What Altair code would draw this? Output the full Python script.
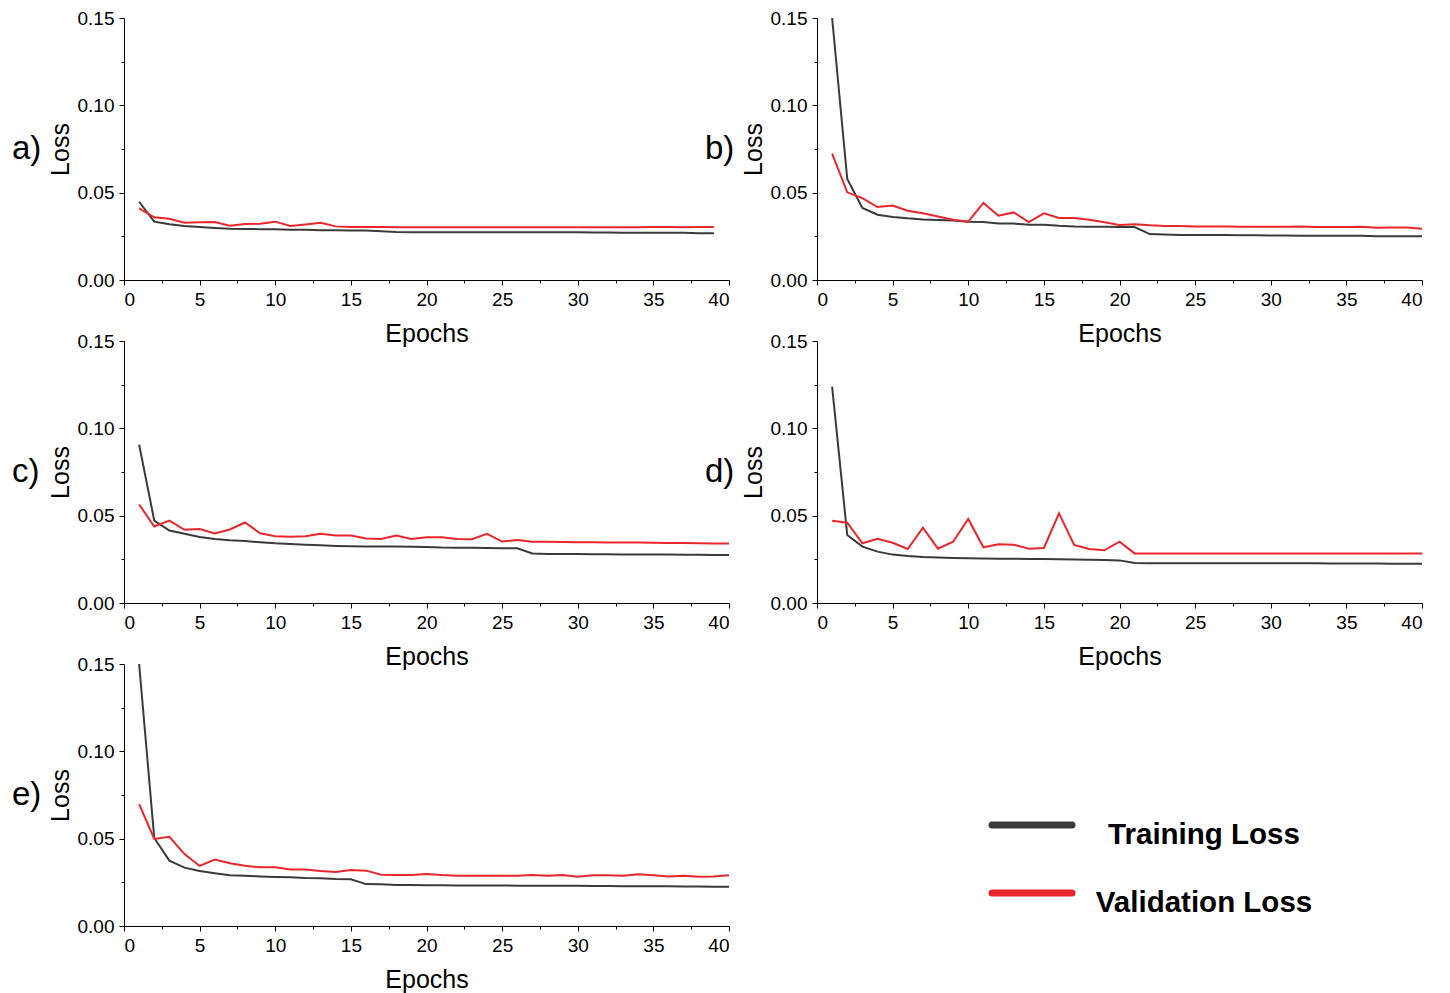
import altair as alt
import pandas as pd

series_names = ["Training Loss", "Validation Loss"]
series_colors = ["#3a3a3a", "#e8262b"]
panel_labels = ["a)", "b)", "c)", "d)", "e)"]

epochs_a = list(range(1, 40))
train_a = [0.0448, 0.0334, 0.0319, 0.0309, 0.0303, 0.0298, 0.0294, 0.0292, 0.0291, 0.0290,
           0.0288, 0.0287, 0.0285, 0.0285, 0.0284, 0.0284, 0.0279, 0.0275, 0.0274, 0.0274,
           0.0274, 0.0273, 0.0273, 0.0273, 0.0273, 0.0273, 0.0273, 0.0273, 0.0273, 0.0273,
           0.0272, 0.0272, 0.0271, 0.0271, 0.0271, 0.0270, 0.0270, 0.0268, 0.0267]
val_a = [0.0410, 0.0359, 0.0351, 0.0328, 0.0330, 0.0332, 0.0311, 0.0320, 0.0322, 0.0334,
         0.0309, 0.0318, 0.0328, 0.0307, 0.0303, 0.0303, 0.0303, 0.0302, 0.0302, 0.0302,
         0.0302, 0.0302, 0.0302, 0.0302, 0.0302, 0.0302, 0.0302, 0.0302, 0.0302, 0.0302,
         0.0302, 0.0302, 0.0302, 0.0302, 0.0304, 0.0303, 0.0302, 0.0303, 0.0303]

epochs_40 = list(range(1, 41))
train_b = [0.1500, 0.0578, 0.0412, 0.0374, 0.0361, 0.0353, 0.0347, 0.0343, 0.0340, 0.0334,
           0.0332, 0.0324, 0.0323, 0.0317, 0.0317, 0.0311, 0.0307, 0.0305, 0.0305, 0.0303,
           0.0303, 0.0263, 0.0260, 0.0258, 0.0258, 0.0257, 0.0257, 0.0256, 0.0256, 0.0255,
           0.0255, 0.0254, 0.0254, 0.0253, 0.0253, 0.0253, 0.0251, 0.0250, 0.0250, 0.0250]
val_b = [0.0723, 0.0502, 0.0469, 0.0418, 0.0426, 0.0397, 0.0382, 0.0364, 0.0345, 0.0334,
         0.0441, 0.0368, 0.0387, 0.0332, 0.0382, 0.0355, 0.0355, 0.0345, 0.0330, 0.0315,
         0.0319, 0.0313, 0.0309, 0.0309, 0.0307, 0.0307, 0.0306, 0.0305, 0.0305, 0.0305,
         0.0305, 0.0307, 0.0303, 0.0303, 0.0303, 0.0305, 0.0299, 0.0301, 0.0301, 0.0294]

train_c = [0.0907, 0.0472, 0.0415, 0.0396, 0.0378, 0.0367, 0.0359, 0.0355, 0.0348, 0.0342,
           0.0338, 0.0334, 0.0330, 0.0327, 0.0325, 0.0324, 0.0323, 0.0323, 0.0322, 0.0321,
           0.0318, 0.0317, 0.0316, 0.0315, 0.0314, 0.0313, 0.0284, 0.0281, 0.0280, 0.0280,
           0.0279, 0.0279, 0.0278, 0.0278, 0.0277, 0.0277, 0.0276, 0.0276, 0.0275, 0.0275]
val_c = [0.0564, 0.0438, 0.0472, 0.0419, 0.0424, 0.0398, 0.0421, 0.0461, 0.0399, 0.0382,
         0.0380, 0.0382, 0.0396, 0.0386, 0.0386, 0.0369, 0.0367, 0.0386, 0.0367, 0.0376,
         0.0376, 0.0367, 0.0365, 0.0396, 0.0352, 0.0361, 0.0350, 0.0350, 0.0349, 0.0348,
         0.0348, 0.0347, 0.0346, 0.0346, 0.0345, 0.0344, 0.0343, 0.0342, 0.0341, 0.0340]

train_d = [0.1239, 0.0389, 0.0323, 0.0294, 0.0277, 0.0269, 0.0263, 0.0261, 0.0258, 0.0256,
           0.0255, 0.0254, 0.0253, 0.0252, 0.0252, 0.0251, 0.0249, 0.0248, 0.0246, 0.0244,
           0.0229, 0.0227, 0.0227, 0.0227, 0.0227, 0.0227, 0.0227, 0.0227, 0.0227, 0.0227,
           0.0227, 0.0227, 0.0227, 0.0226, 0.0226, 0.0226, 0.0226, 0.0225, 0.0225, 0.0225]
val_d = [0.0471, 0.0460, 0.0342, 0.0368, 0.0345, 0.0309, 0.0431, 0.0311, 0.0351, 0.0481,
         0.0319, 0.0336, 0.0334, 0.0311, 0.0315, 0.0513, 0.0332, 0.0309, 0.0302, 0.0351,
         0.0284, 0.0283, 0.0283, 0.0283, 0.0283, 0.0283, 0.0283, 0.0284, 0.0284, 0.0284,
         0.0284, 0.0283, 0.0283, 0.0284, 0.0283, 0.0283, 0.0284, 0.0283, 0.0283, 0.0283]

train_e = [0.1500, 0.0504, 0.0374, 0.0334, 0.0315, 0.0302, 0.0290, 0.0288, 0.0284, 0.0281,
           0.0279, 0.0275, 0.0273, 0.0269, 0.0267, 0.0240, 0.0239, 0.0235, 0.0235, 0.0233,
           0.0233, 0.0232, 0.0232, 0.0232, 0.0232, 0.0231, 0.0231, 0.0231, 0.0231, 0.0230,
           0.0229, 0.0229, 0.0228, 0.0228, 0.0228, 0.0227, 0.0226, 0.0226, 0.0225, 0.0225]
val_e = [0.0698, 0.0498, 0.0511, 0.0412, 0.0344, 0.0380, 0.0359, 0.0345, 0.0336, 0.0336,
         0.0323, 0.0323, 0.0315, 0.0309, 0.0321, 0.0317, 0.0294, 0.0292, 0.0292, 0.0298,
         0.0292, 0.0288, 0.0288, 0.0288, 0.0288, 0.0288, 0.0292, 0.0288, 0.0292, 0.0282,
         0.0290, 0.0290, 0.0288, 0.0296, 0.0290, 0.0284, 0.0288, 0.0282, 0.0284, 0.0290]

x_ticks = [0, 2.5, 5, 7.5, 10, 12.5, 15, 17.5, 20, 22.5, 25, 27.5, 30, 32.5, 35, 37.5, 40]
y_ticks = [0, 0.025, 0.05, 0.075, 0.1, 0.125, 0.15]

W, H = 605, 262
FONT = "Liberation Sans"

color_scale = alt.Scale(domain=series_names, range=series_colors)


def panel(epochs, train, val, label):
    df = pd.DataFrame({
        "Epoch": epochs + epochs,
        "Loss": train + val,
        "Series": [series_names[0]] * len(epochs) + [series_names[1]] * len(epochs),
    })
    lines = alt.Chart(df).mark_line(strokeWidth=2, clip=True).encode(
        x=alt.X("Epoch:Q", scale=alt.Scale(domain=[0, 40], nice=False, zero=False),
                axis=alt.Axis(values=x_ticks, title="Epochs",
                              labelExpr="datum.value % 5 === 0 ? format(datum.value, 'd') : ''",
                              tickSize={"condition": {"test": "datum.value % 5 === 0", "value": 5}, "value": 3},
                              labelPadding=5, titlePadding=12)),
        y=alt.Y("Loss:Q", scale=alt.Scale(domain=[0, 0.15], nice=False),
                axis=alt.Axis(values=y_ticks, title="Loss",
                              labelExpr="round(datum.value * 1000) % 50 === 0 ? format(datum.value, '.2f') : ''",
                              tickSize={"condition": {"test": "round(datum.value * 1000) % 50 === 0", "value": 5}, "value": 3},
                              labelPadding=5, titlePadding=4)),
        color=alt.Color("Series:N", scale=color_scale, legend=None),
    )
    lab = alt.Chart(pd.DataFrame({"label": [label]})).mark_text(
        fontSize=33, align="left", baseline="middle", font=FONT, color="black"
    ).encode(text="label:N", x=alt.value(-112), y=alt.value(131))
    return alt.layer(lines, lab).properties(width=W, height=H)


legend_df = pd.DataFrame({"Series": series_names})
legend_y = alt.Y("Series:N", scale=alt.Scale(type="point", domain=series_names, range=[161, 229], padding=0), axis=None)
legend_rules = alt.Chart(legend_df).mark_rule(strokeWidth=7, strokeCap="round").encode(
    x=alt.value(175), x2=alt.value(255), y=legend_y,
    color=alt.Color("Series:N", scale=color_scale, legend=None),
)
legend_text = alt.Chart(legend_df).mark_text(
    fontSize=29.5, fontWeight="bold", align="center", baseline="middle", dy=10, font=FONT, color="black"
).encode(x=alt.value(387), y=legend_y, text="Series:N")
legend_cell = alt.layer(legend_rules, legend_text).properties(width=W, height=H)

chart = alt.concat(
    panel(epochs_a, train_a, val_a, panel_labels[0]),
    panel(epochs_40, train_b, val_b, panel_labels[1]),
    panel(epochs_40, train_c, val_c, panel_labels[2]),
    panel(epochs_40, train_d, val_d, panel_labels[3]),
    panel(epochs_40, train_e, val_e, panel_labels[4]),
    legend_cell,
    columns=2,
    spacing={"row": 61, "column": 88},
    bounds="flush",
).properties(
    padding={"left": 4, "top": 1, "right": 5, "bottom": 5}
).configure(
    font=FONT,
).configure_view(
    stroke=None
).configure_axis(
    grid=False,
    domainColor="black",
    domainWidth=1,
    tickColor="black",
    tickWidth=1,
    labelColor="black",
    labelFont=FONT,
    labelFontSize=19,
    titleColor="black",
    titleFont=FONT,
    titleFontSize=25,
    titleFontWeight="normal",
)

chart.save("out.html", embed_options={"renderer": "svg", "actions": False})
